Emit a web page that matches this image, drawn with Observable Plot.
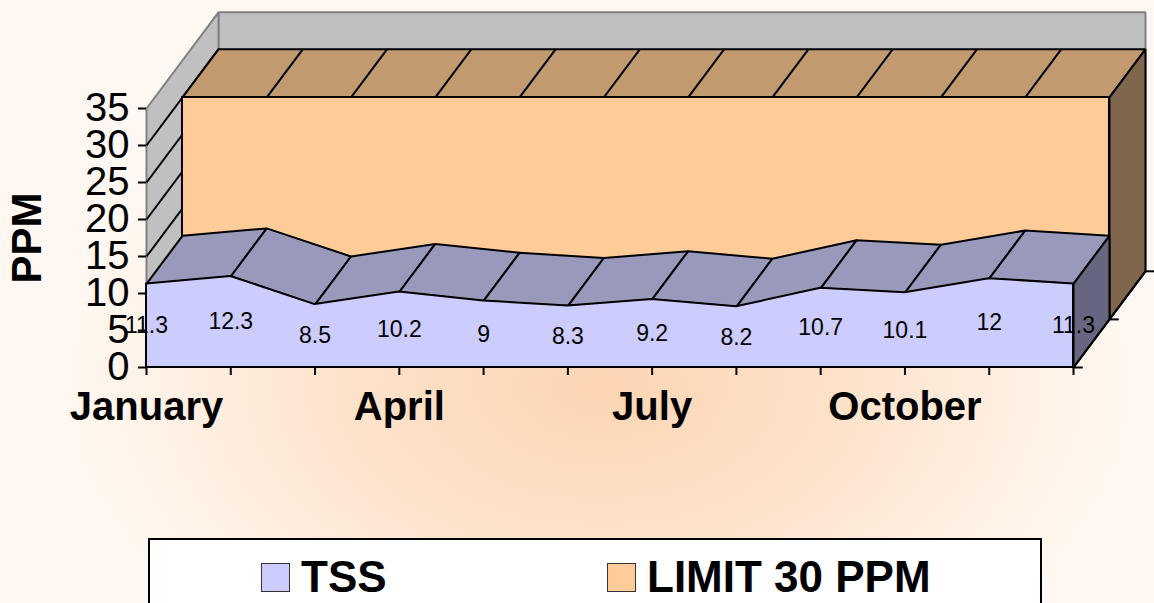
<!DOCTYPE html>
<html>
<head>
<meta charset="utf-8">
<script src="https://cdn.jsdelivr.net/npm/d3@7"></script>
<script src="https://cdn.jsdelivr.net/npm/@observablehq/plot@0.6"></script>
<style>
  html, body { margin: 0; padding: 0; }
  body {
    width: 1154px; height: 603px; overflow: hidden; position: relative;
    background: #fff7ef;
    background-image: radial-gradient(ellipse 48% 58% at 52% 64%, #fcd5b2 0%, #fde2cb 45%, #fff4ea 85%, #fff8f2 100%);
    font-family: "Liberation Sans", Arial, sans-serif;
  }
  #chart { position: absolute; left: 0; top: 0; }
  #legend {
    position: absolute; left: 148px; top: 538px; width: 890px; height: 90px;
    background: #ffffff; border: 2px solid #000;
  }
  .item { position: absolute; top: 19px; display: flex; align-items: center; }
  .swatch { width: 27px; height: 27px; border: 1.5px solid #333; margin-right: 11px; }
  .name { font-size: 44px; font-weight: bold; line-height: 36px; color: #000; }
</style>
</head>
<body>
<div id="chart"></div>
<div id="legend"></div>
<script>
// Monthly TSS readings (PPM) against the 30 PPM discharge limit
const months = ["January", "February", "March", "April", "May", "June",
                "July", "August", "September", "October", "November", "December"];
const tss   = [11.3, 12.3, 8.5, 10.2, 9, 8.3, 9.2, 8.2, 10.7, 10.1, 12, 11.3];
const limit = [30, 30, 30, 30, 30, 30, 30, 30, 30, 30, 30, 30];
const yTicks = [0, 5, 10, 15, 20, 25, 30, 35];
const shownMonths = ["January", "April", "July", "October"];
const seriesNames = ["TSS", "LIMIT 30 PPM"];
const seriesColors = ["#ccccff", "#ffcc99"];

// Oblique projection: one step back in series depth moves this far in (month, PPM) units
const DEPTH_X = 0.427;
const DEPTH_Y = 6.5;
const P = (i, v, d) => ({x: i + d * DEPTH_X, y: v + d * DEPTH_Y});
const face = (id, pts) => pts.map(p => ({...p, id}));

const rows = months.map((m, i) => ({i, month: m, tss: tss[i], limit: limit[i]}));
const last = rows.length - 1;
const yMax = yTicks[yTicks.length - 1];

// Walls of the 3-D box
const backWall = face("back", [P(0, 0, 2), P(last, 0, 2), P(last, yMax, 2), P(0, yMax, 2)]);
const leftWall = face("left", [P(0, 0, 0), P(0, 0, 2), P(0, yMax, 2), P(0, yMax, 0)]);

// LIMIT series occupies depth 1..2
const limitTop = face("ltop", [P(0, limit[0], 1), P(last, limit[last], 1), P(last, limit[last], 2), P(0, limit[0], 2)]);
const limitSide = face("lside", [P(last, 0, 1), P(last, limit[last], 1), P(last, limit[last], 2), P(last, 0, 2)]);

// TSS series occupies depth 0..1
const tssTop = rows.slice(0, -1).flatMap((d, k) => face("t" + k, [
  P(d.i, d.tss, 0), P(d.i + 1, tss[d.i + 1], 0), P(d.i + 1, tss[d.i + 1], 1), P(d.i, d.tss, 1)
]));
const tssSide = face("tside", [P(last, 0, 0), P(last, tss[last], 0), P(last, tss[last], 1), P(last, 0, 1)]);

const poly = (data, fill, stroke = "#000") => Plot.line(data, {
  x: "x", y: "y", z: "id", curve: "linear-closed", fill, stroke, strokeWidth: 2, strokeLinejoin: "miter"
});

const chart = Plot.plot({
  width: 1154,
  height: 530,
  marginLeft: 146,
  marginRight: 81,
  marginTop: 108,
  marginBottom: 163,
  x: {type: "linear", domain: [0, last]},
  y: {type: "linear", domain: [0, yMax]},
  style: {background: "transparent", fontFamily: "'Liberation Sans', Arial, sans-serif", color: "#000", overflow: "visible"},
  marks: [
    poly(backWall, "#c0c0c0", "#808080"),
    poly(leftWall, "#c0c0c0", "#808080"),
    // gridlines across the side wall
    Plot.link(yTicks.filter(v => v > 0 && v < yMax), {
      x1: () => 0, y1: v => v, x2: () => 2 * DEPTH_X, y2: v => v + 2 * DEPTH_Y,
      stroke: "#000", strokeWidth: 2
    }),
    // LIMIT 30 PPM block
    poly(limitTop, "#c29a70"),
    Plot.link(rows.slice(1, -1), {
      x1: d => d.i + DEPTH_X, y1: d => d.limit + DEPTH_Y,
      x2: d => d.i + 2 * DEPTH_X, y2: d => d.limit + 2 * DEPTH_Y,
      stroke: "#000", strokeWidth: 2
    }),
    poly(limitSide, "#80664d"),
    Plot.areaY(rows, {
      x: d => d.i + DEPTH_X, y1: () => DEPTH_Y, y2: d => d.limit + DEPTH_Y,
      fill: seriesColors[1], stroke: "#000", strokeWidth: 2
    }),
    // TSS block
    poly(tssTop, "#9999bb"),
    poly(tssSide, "#666680"),
    Plot.areaY(rows, {x: "i", y: "tss", fill: seriesColors[0], stroke: "#000", strokeWidth: 2}),
    // series (depth) axis along the right edge of the floor
    Plot.link([0], {
      x1: () => last, y1: () => 0, x2: () => last + 2 * DEPTH_X, y2: () => 2 * DEPTH_Y,
      stroke: "#000", strokeWidth: 2
    }),
    Plot.link([0, 1, 2], {
      x1: d => last + d * DEPTH_X, y1: d => d * DEPTH_Y,
      x2: d => last + d * DEPTH_X + 0.11, y2: d => d * DEPTH_Y,
      stroke: "#000", strokeWidth: 2
    }),
    Plot.axisY({ticks: yTicks, tickSize: 8, tickPadding: 9, fontSize: 40, label: null, strokeWidth: 2}),
    Plot.axisX({
      ticks: rows.map(d => d.i),
      tickFormat: i => shownMonths.includes(months[i]) ? months[i] : "",
      tickSize: 8, tickPadding: 16, fontSize: 40, fontWeight: "bold", label: null, strokeWidth: 2
    }),
    Plot.text(["PPM"], {
      frameAnchor: "left", dx: -119, rotate: -90, fontSize: 42, fontWeight: "bold",
      textAnchor: "middle", lineAnchor: "middle"
    }),
    // value labels inside the TSS front face
    Plot.text(rows, {x: "i", y: d => d.tss / 2, text: d => String(d.tss), fontSize: 23, fill: "#000"})
  ]
});
document.getElementById("chart").appendChild(chart);

// Legend below the chart
const legend = document.getElementById("legend");
const offsets = [111, 457];
seriesNames.forEach((name, k) => {
  const item = document.createElement("div");
  item.className = "item";
  item.style.left = offsets[k] + "px";
  const sw = document.createElement("div");
  sw.className = "swatch";
  sw.style.background = seriesColors[k];
  const label = document.createElement("span");
  label.className = "name";
  label.textContent = name;
  item.append(sw, label);
  legend.appendChild(item);
});
</script>
</body>
</html>
